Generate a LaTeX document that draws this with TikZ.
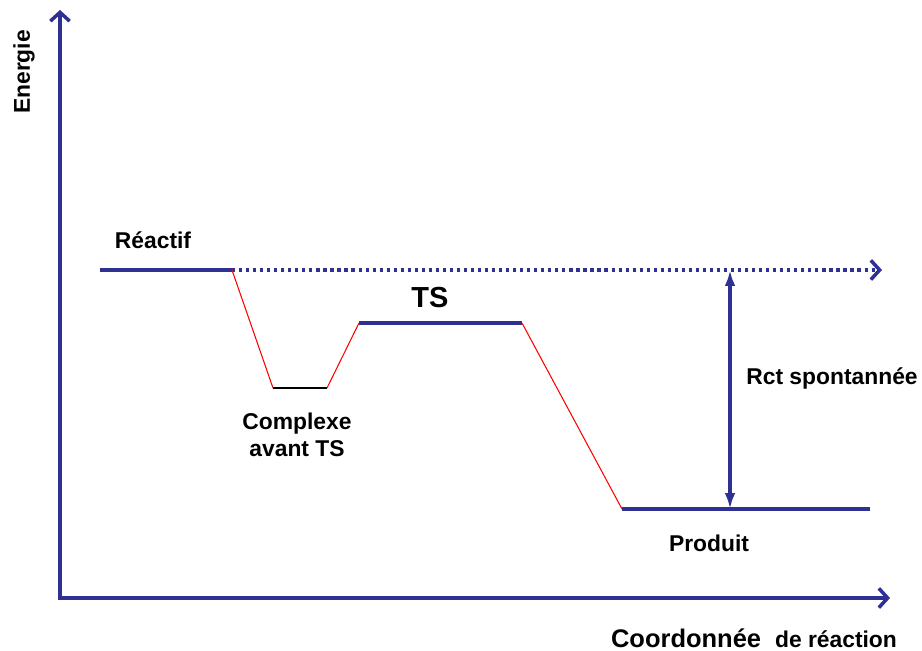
\documentclass[tikz,border=0pt]{standalone}
\usepackage{fontspec}
\setmainfont{Liberation Sans}
\usepackage{xcolor}
\usetikzlibrary{arrows.meta,positioning}

\definecolor{axisblue}{RGB}{46,49,146}

\tikzset{
    axis/.style={line width=2.3pt, axisblue, -{Straight Barb[length=5pt,width=11pt,line width=2pt]}},
    level/.style={line width=2pt, axisblue},
    path/.style={red, line width=0.6pt},
    label/.style={font=\bfseries\fontsize{13}{15.5}\selectfont, align=center}
}

\begin{document}
\begin{tikzpicture}[x=0.02cm, y=-0.02cm]
        \useasboundingbox (0,0) rectangle (922,651);
        % Points
        \coordinate (origin) at (58,598);
        \coordinate (ytop) at (60,10);
        \coordinate (xend) at (890,598);
        \coordinate (r1) at (100,270);
        \coordinate (r2) at (232,270);
        \coordinate (rend) at (882,270);
        \coordinate (c1) at (273,388);
        \coordinate (c2) at (327,388);
        \coordinate (t1) at (359,323);
        \coordinate (t2) at (522,323);
        \coordinate (p1) at (622,509);
        \coordinate (p2) at (870,509);
        \coordinate (dtop) at (730,270);
        \coordinate (dbot) at (730,509);

        % Nodes
        \node[label, rotate=90] (energie) at (24,72) {Energie};
        \node[label] (reactif) at (153,240) {Réactif};
        \node[label, font=\bfseries\fontsize{16.5}{19}\selectfont] (ts) at (430,298) {TS};
        \node[label] (complexe) at (297,435) {Complexe\\avant TS};
        \node[label] (rct) at (832,378) {Rct spontannée};
        \node[label] (produit) at (709,543) {Produit};
        \node[label, anchor=center] (coord) at (754,638) {{\fontsize{14.5}{16}\selectfont Coordonnée}\,\, de réaction};

        % Axes
        \draw[axis] (60,598) -- (ytop);
        \draw[axis] (origin) -- (xend);

        % Levels
        \draw[level] (r1) -- (r2);
        \draw[level, line cap=butt, dash pattern=on 1.8pt off 2.2pt, -{Straight Barb[length=5pt,width=11pt,line width=2pt]}] (r2) -- (rend);
        \draw[level] (t1) -- (t2);
        \draw[level] (p1) -- (p2);
        \draw[black, line width=0.6pt] (c1) -- (c2);

        % Arrows
        \draw[path] (r2) -- (c1);
        \draw[path] (c2) -- (t1);
        \draw[path] (t2) -- (p1);
        \draw[line width=1.8pt, axisblue, {Latex[length=9pt,width=6pt]}-{Latex[length=9pt,width=6pt]}] (dtop) -- (dbot);
    \end{tikzpicture}
\end{document}
